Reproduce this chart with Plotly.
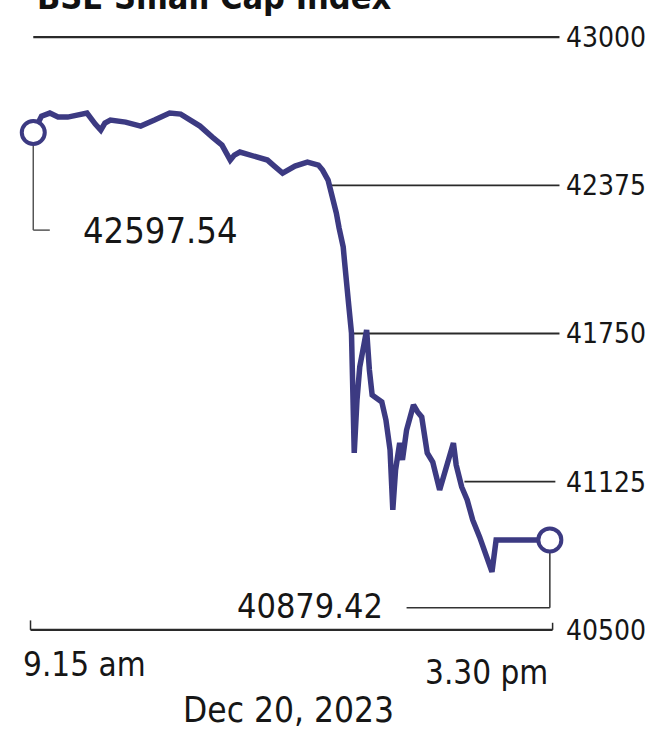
import plotly.graph_objects as go

DAY = "2023-12-20 "

times = ["09:15", "09:21", "09:27", "09:33", "09:40", "09:48", "09:54", "10:00", "10:04", "10:07",
         "10:11", "10:22", "10:33", "10:43", "10:54", "11:02", "11:07", "11:16", "11:25", "11:32",
         "11:38", "11:41", "11:45", "11:56", "12:05", "12:10", "12:16", "12:25", "12:34", "12:42",
         "12:45", "12:49", "12:52", "12:55", "12:57", "13:00", "13:01", "13:03", "13:04", "13:06",
         "13:07", "13:08", "13:10", "13:12", "13:15", "13:17", "13:19", "13:21", "13:24", "13:28",
         "13:31", "13:34", "13:36", "13:38", "13:41", "13:43", "13:46", "13:51", "13:54", "13:57",
         "14:01", "14:05", "14:10", "14:14", "14:20", "14:22", "14:26", "14:30", "14:34", "14:39",
         "14:44", "14:48", "14:51", "15:30"]
values = [42597.54, 42666.9, 42679.6, 42662.7, 42662.7, 42675.4, 42679.6, 42633.2, 42607.9, 42637.4,
          42650.1, 42641.6, 42624.8, 42650.1, 42679.6, 42675.4, 42658.5, 42624.8, 42578.4, 42544.7,
          42481.4, 42502.5, 42515.2, 42498.3, 42481.4, 42456.1, 42426.6, 42456.1, 42473.0, 42460.4,
          42439.3, 42397.1, 42333.9, 42258.0, 42194.8, 42114.7, 42051.4, 41954.5, 41870.1, 41752.1,
          41566.6, 41246.2, 41469.6, 41608.8, 41701.5, 41764.7, 41596.1, 41490.7, 41478.1, 41461.2,
          41385.3, 41258.8, 41005.9, 41174.5, 41288.3, 41216.7, 41343.2, 41448.5, 41419.0, 41398.0,
          41246.2, 41208.2, 41090.2, 41174.5, 41288.3, 41195.6, 41102.8, 41048.1, 40963.7, 40892.0,
          40816.2, 40744.5, 40879.42, 40879.42]

y_ticks = [40500, 41125, 41750, 42375, 43000]
title_text = "BSE Small Cap Index"
open_label = "42597.54"
close_label = "40879.42"
start_label = "9.15 am"
end_label = "3.30 pm"
date_label = "Dec 20, 2023"

x = [DAY + t for t in times]

LINE = "#3c3a82"
INK = "#161616"
RULE = "#2a2a2a"
FONT = "DejaVu Sans Condensed, DejaVu Sans, sans-serif"

fig = go.Figure()
fig.add_trace(go.Scatter(x=x, y=values, mode="lines",
                         line=dict(color=LINE, width=5.5), hoverinfo="skip"))
fig.add_trace(go.Scatter(x=[x[0], x[-1]], y=[values[0], values[-1]], mode="markers",
                         marker=dict(size=23, color="white", line=dict(color=LINE, width=4)),
                         cliponaxis=False, hoverinfo="skip"))

shapes = []
def seg(x0, y0, x1, y1, w=1.8, c=RULE):
    shapes.append(dict(type="line", xref="x", yref="y", x0=x0, y0=y0, x1=x1, y1=y1,
                       line=dict(color=c, width=w), layer="below"))

# reference rules
seg(DAY + "09:15", 43000, DAY + "15:37", 43000, 2.2)
seg(DAY + "12:50", 42375, DAY + "15:37", 42375)
seg(DAY + "13:05", 41750, DAY + "15:37", 41750)
seg(DAY + "14:28", 41125, DAY + "15:34", 41125)
seg(DAY + "09:13", 40500, DAY + "15:32", 40500, 2.2)
seg(DAY + "09:13", 40500, DAY + "09:13", 40540, 1.5)
seg(DAY + "15:32", 40500, DAY + "15:32", 40530, 1.5)
# leaders
seg(DAY + "09:15", values[0], DAY + "09:15", 42186, 1.5, "#555555")
seg(DAY + "09:15", 42186, DAY + "09:27", 42186, 1.5, "#555555")
seg(DAY + "15:30", values[-1], DAY + "15:30", 40593, 1.5, "#333333")
seg(DAY + "15:30", 40593, DAY + "13:46", 40593, 1.5, "#333333")

ann = [
    dict(x=DAY + "09:50", y=42186, xref="x", yref="y", text=open_label, xanchor="left",
         yanchor="middle", showarrow=False, font=dict(size=36, color=INK, family=FONT)),
    dict(x=DAY + "13:30", y=40600, xref="x", yref="y", text=close_label, xanchor="right",
         yanchor="middle", showarrow=False, font=dict(size=34, color=INK, family=FONT)),
    dict(x=-0.007, y=-0.046, xref="paper", yref="paper", text=start_label, xanchor="left",
         yanchor="middle", showarrow=False, font=dict(size=33, color=INK, family=FONT)),
    dict(x=DAY + "15:30", y=-0.058, xref="x", yref="paper", text=end_label, xanchor="right",
         yanchor="middle", showarrow=False, font=dict(size=33, color=INK, family=FONT)),
    dict(x=DAY + "12:20", y=-0.121, xref="x", yref="paper", text=date_label, xanchor="center",
         yanchor="middle", showarrow=False, font=dict(size=35, color=INK, family=FONT)),
    dict(x=DAY + "09:16", y=1.018, xref="x", yref="paper", text="<b>" + title_text + "</b>",
         xanchor="left", yanchor="bottom", showarrow=False,
         font=dict(size=34, color="#111111", family=FONT)),
]

fig.update_layout(
    width=659, height=731,
    margin=dict(l=25, r=94, t=30, b=94),
    paper_bgcolor="white", plot_bgcolor="white",
    showlegend=False,
    shapes=shapes, annotations=ann,
    xaxis=dict(type="date", range=[DAY + "09:09", DAY + "15:41"], visible=False),
    yaxis=dict(range=[40470, 43030], side="right", tickvals=y_ticks,
               ticktext=[str(v) for v in y_ticks], showgrid=False, zeroline=False,
               showline=False, ticks="", tickfont=dict(size=28, color=INK, family=FONT)),
)

fig.write_html("out.html")
